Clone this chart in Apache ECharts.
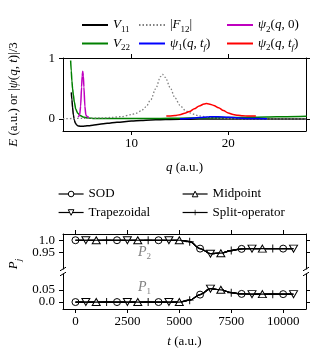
<!DOCTYPE html>
<html><head><meta charset="utf-8">
<script src="https://cdn.jsdelivr.net/npm/echarts@6/dist/echarts.min.js"></script>
<style>html,body{margin:0;padding:0;background:#fff}#c{width:319px;height:355px}</style>
</head><body><div id="c"></div>
<script>
// ---------- top panel data ----------
const qV11 = [3.79, 3.85, 3.92, 4.0, 4.1, 4.2, 4.35, 4.5, 4.7, 4.9, 5.2, 5.6, 6.0, 6.7, 7.5, 8.5, 10, 11, 12, 13, 14, 16, 18, 20, 24, 28.1];
const V11  = [0.44, 0.32, 0.19, 0.07, -0.02, -0.065, -0.1, -0.115, -0.12, -0.12, -0.117, -0.11, -0.103, -0.088, -0.072, -0.055, -0.033, -0.024, -0.016, -0.011, -0.007, -0.003, -0.001, 0, 0, 0];
const qV22 = [3.72, 3.78, 3.85, 3.92, 4.0, 4.1, 4.25, 4.45, 4.7, 5.0, 5.5, 6.2, 7, 8, 10, 12, 14, 16, 18, 20, 22, 24, 26, 28.1];
const V22  = [0.97, 0.8, 0.63, 0.5, 0.4, 0.28, 0.16, 0.095, 0.058, 0.034, 0.018, 0.01, 0.007, 0.006, 0.006, 0.008, 0.011, 0.015, 0.019, 0.023, 0.028, 0.033, 0.038, 0.044];
const qF12 = [2.93, 5, 7, 8, 9, 10, 10.5, 11, 11.5, 12, 12.5, 13, 13.2, 13.5, 14, 14.5, 15, 15.5, 16, 17, 18, 19, 20, 22, 25, 28.1];
const F12  = [0.005, 0.01, 0.018, 0.026, 0.04, 0.072, 0.095, 0.135, 0.2, 0.32, 0.5, 0.7, 0.74, 0.69, 0.52, 0.35, 0.23, 0.15, 0.1, 0.05, 0.025, 0.014, 0.008, 0.003, 0.001, 0];
const qPsi1 = [15, 16, 17, 18, 19, 20, 21, 22, 23, 24];
const Psi1  = [0.005, 0.01, 0.025, 0.035, 0.036, 0.028, 0.018, 0.01, 0.006, 0.004];
const qPsi20 = [4.5, 4.65, 4.75, 4.85, 4.91, 4.97, 5.03, 5.09, 5.19, 5.29, 5.45, 5.6];
const Psi20  = [0.03, 0.067, 0.21, 0.53, 0.71, 0.79, 0.71, 0.53, 0.21, 0.067, 0.035, 0.03];
const qPsi2f = [13.6, 14, 14.5, 15, 15.5, 16, 16.5, 17, 17.5, 17.75, 18, 18.5, 19, 19.5, 20, 20.5, 21, 21.5, 22, 22.85];
const Psi2f  = [0.05, 0.051, 0.056, 0.072, 0.095, 0.125, 0.17, 0.215, 0.248, 0.255, 0.25, 0.225, 0.185, 0.14, 0.1, 0.075, 0.06, 0.053, 0.05, 0.05];
const qTicks = [10, 20];
const eTicks = [0, 1];

// ---------- bottom panel data ----------
const tVals = [0,500,1000,1500,2000,2500,3000,3500,4000,4500,5000,5500,6000,6500,7000,7500,8000,8500,9000,9500,10000,10500];
const P2vals = [1,1,1,1,1,1,1,1,1,1,1,0.994,0.965,0.944,0.946,0.957,0.964,0.965,0.965,0.965,0.965,0.965];
const P1vals = [0,0,0,0,0,0,0,0,0,0,0,0.008,0.031,0.056,0.051,0.039,0.034,0.033,0.033,0.033,0.033,0.033];
const methods = ['SOD', 'Trapezoidal', 'Midpoint', 'Split-operator'];
const markerOffsets = [0, 1, 2, 3];
const tTicks = [0, 2500, 5000, 7500, 10000];
const p2Ticks = [0.95, 1.0];
const p2TickLabels = ['0.95', '1.0'];
const p1Ticks = [0, 0.05];
const p1TickLabels = ['0.0', '0.05'];

const F = 'Liberation Serif';
const FS = 13;
const rich = {
  i: {fontFamily: F, fontStyle: 'italic', fontSize: FS, lineHeight: 18},
  s: {fontFamily: F, fontSize: 9, lineHeight: 8, verticalAlign: 'bottom'},
  si: {fontFamily: F, fontStyle: 'italic', fontSize: 9, lineHeight: 8, verticalAlign: 'bottom'}
};
const txt = {fontFamily: F, fontSize: FS, color: '#000', lineHeight: 18, rich: rich};
const tickTxt = {show: true, margin: 8, fontFamily: F, fontSize: FS, color: '#000', lineHeight: 11,
  hideOverlap: false, showMinLabel: true, showMaxLabel: true};

const zip = (a, b) => a.map((x, i) => [x, b[i]]);

const legendLabels = {
  'V11': '{i|V}{s|11}',
  'V22': '{i|V}{s|22}',
  'F12': '|{i|F}{s|12}|',
  'psi1': '{i|ψ}{s|1}({i|q}, {i|t}{si|f})',
  'psi20': '{i|ψ}{s|2}({i|q}, 0)',
  'psi2f': '{i|ψ}{s|2}({i|q}, {i|t}{si|f})'
};

const axisLine = {show: true, onZero: false, lineStyle: {color: '#000', width: 1}};
function ticks(vals) { return {show: true, inside: false, length: 4, lineStyle: {color: '#000'}, customValues: vals}; }
function mkAxis(o) {
  return Object.assign({
    type: 'value', splitLine: {show: false},
    axisLine: axisLine,
    axisLabel: {show: false}
  }, o);
}
// one label per axis so that the close-together labels are never dropped
function labelOnlyAxis(grid, min, max, value, label) {
  return mkAxis({gridIndex: grid, position: 'left', offset: 0, min: min, max: max,
    axisLine: {show: false}, axisTick: {show: false},
    axisLabel: Object.assign({}, tickTxt, {customValues: [value], formatter: () => label})});
}

const xAxes = [
  mkAxis({gridIndex: 0, position: 'bottom', min: 2.93, max: 28.03, axisTick: ticks(qTicks),
    axisLabel: Object.assign({}, tickTxt, {margin: 7, customValues: qTicks}),
    name: '{i|q} (a.u.)', nameLocation: 'middle', nameGap: 28, nameTextStyle: txt}),
  mkAxis({gridIndex: 0, position: 'top', min: 2.93, max: 28.03, axisTick: ticks(qTicks)}),
  mkAxis({gridIndex: 1, position: 'top', min: -600, max: 11100, axisTick: ticks(tTicks)}),
  mkAxis({gridIndex: 2, position: 'bottom', min: -600, max: 11100, axisTick: ticks(tTicks),
    axisLabel: Object.assign({}, tickTxt, {margin: 7, customValues: tTicks, formatter: v => String(v)}),
    name: '{i|t} (a.u.)', nameLocation: 'middle', nameGap: 24, nameTextStyle: txt})
];
const P2min = 0.88, P2max = 1.026, P1min = -0.029, P1max = 0.117;
const yAxes = [
  mkAxis({gridIndex: 0, position: 'left', min: -0.199, max: 1.01, axisTick: ticks(eTicks),
    axisLabel: Object.assign({}, tickTxt, {customValues: eTicks}),
    name: '{i|E} (a.u.) or |{i|ψ}({i|q}, {i|t})|/3', nameLocation: 'middle', nameGap: 40, nameRotate: 90, nameTextStyle: txt}),
  mkAxis({gridIndex: 0, position: 'right', min: -0.199, max: 1.01, axisTick: ticks(eTicks)}),
  mkAxis({gridIndex: 1, position: 'left', min: P2min, max: P2max, axisTick: ticks(p2Ticks)}),
  mkAxis({gridIndex: 1, position: 'right', min: P2min, max: P2max, axisTick: ticks(p2Ticks)}),
  mkAxis({gridIndex: 2, position: 'left', min: P1min, max: P1max, axisTick: ticks(p1Ticks)}),
  mkAxis({gridIndex: 2, position: 'right', min: P1min, max: P1max, axisTick: ticks(p1Ticks)}),
  labelOnlyAxis(1, P2min, P2max, p2Ticks[0], p2TickLabels[0]),
  labelOnlyAxis(1, P2min, P2max, p2Ticks[1], p2TickLabels[1]),
  labelOnlyAxis(2, P1min, P1max, p1Ticks[0], p1TickLabels[0]),
  labelOnlyAxis(2, P1min, P1max, p1Ticks[1], p1TickLabels[1])
];

function topLine(name, data, color, extra) {
  return Object.assign({
    name: name, type: 'line', xAxisIndex: 0, yAxisIndex: 0, data: data,
    symbol: 'none', smooth: 0.3, smoothMonotone: 'x', clip: true,
    lineStyle: {color: color, width: 1.5}, itemStyle: {color: color}, z: 2
  }, extra || {});
}

const series = [
  topLine('V11', zip(qV11, V11), '#000000'),
  topLine('V22', zip(qV22, V22), '#008000'),
  topLine('F12', zip(qF12, F12), '#808080', {lineStyle: {color: '#808080', width: 1.3, type: [1.5, 2]}}),
  topLine('psi1', zip(qPsi1, Psi1), '#0000ff'),
  topLine('psi20', zip(qPsi20, Psi20), '#bf00bf', {smooth: 0.2}),
  topLine('psi2f', zip(qPsi2f, Psi2f), '#ff0000')
];

const symbols = [
  {symbol: 'circle', symbolSize: 7, itemStyle: {color: '#fff', borderColor: '#000', borderWidth: 1}},
  {symbol: 'path://M0,0L10,0L5,9Z', symbolSize: [8, 7], itemStyle: {color: '#fff', borderColor: '#000', borderWidth: 1}},
  {symbol: 'triangle', symbolSize: [8, 7], itemStyle: {color: '#fff', borderColor: '#000', borderWidth: 1}},
  {symbol: 'path://M4.4,0H5.6V4.4H10V5.6H5.6V10H4.4V5.6H0V4.4H4.4Z', symbolSize: 8, itemStyle: {color: '#000', borderWidth: 0}}
];

methods.forEach((m, k) => {
  [[1, P2vals], [2, P1vals]].forEach(([g, vals]) => {
    series.push(Object.assign({
      name: m, type: 'line', xAxisIndex: g + 1, yAxisIndex: 2 * g,
      data: tVals.map((t, i) => (i % 4 === markerOffsets[k]) ? [t, vals[i]] : {value: [t, vals[i]], symbol: 'none'}),
      showAllSymbol: true, smooth: 0.35, smoothMonotone: 'x',
      lineStyle: {color: '#000', width: 1.2}, z: 3 + k
    }, symbols[k]));
  });
});

function legendAt(name, left, cy, w, top) {
  const l = {
    data: [name], left: left, top: cy - 9, orient: 'horizontal', padding: 0,
    itemWidth: w, itemGap: 0, selectedMode: false,
    textStyle: txt, formatter: n => legendLabels[n] || n
  };
  if (top) {
    l.itemHeight = 10;
    l.itemStyle = {opacity: 0};
  } else {
    l.itemHeight = 7;
    l.lineStyle = {width: 1.2};
    l.itemStyle = {borderWidth: 1};
  }
  return l;
}
const legends = [
  legendAt('V11', 81, 25, 26, true), legendAt('F12', 138, 25, 26, true), legendAt('psi20', 226, 25, 26, true),
  legendAt('V22', 81, 43.5, 26, true), legendAt('psi1', 138, 43.5, 26, true), legendAt('psi2f', 226, 43.5, 26, true),
  legendAt('SOD', 58, 194, 25), legendAt('Midpoint', 182, 194, 25),
  legendAt('Trapezoidal', 58, 212.5, 25), legendAt('Split-operator', 182, 212.5, 25)
];

const grids = [
  {left: 63, top: 58, width: 243, height: 73},
  {left: 63, top: 234, width: 243, height: 35},
  {left: 63, top: 274, width: 243, height: 35}
].map(g => Object.assign(g, {containLabel: false, outerBoundsMode: 'none'}));

function brk(x, y) {
  return {type: 'line', shape: {x1: x - 3, y1: y + 1.8, x2: x + 3, y2: y - 1.8}, style: {stroke: '#000', lineWidth: 1}, silent: true};
}
const grayRich = {
  i: {fontFamily: F, fontStyle: 'italic', fontSize: 14, lineHeight: 18, fill: '#808080'},
  s: {fontFamily: F, fontSize: 9, lineHeight: 8, verticalAlign: 'bottom', fill: '#808080'}
};
const graphic = [
  brk(63, 269), brk(306, 269), brk(63, 274), brk(306, 274),
  {type: 'text', left: 138, top: 245, style: {text: '{i|P}{s|2}', rich: grayRich, fill: '#808080'}},
  {type: 'text', left: 138, top: 280, style: {text: '{i|P}{s|1}', rich: grayRich, fill: '#808080'}},
  {type: 'text', x: 14, y: 264, rotation: Math.PI / 2,
   style: {text: '{i|P}{si|j}', rich: rich, align: 'center', verticalAlign: 'middle', fill: '#000'}}
];

const chart = echarts.init(document.getElementById('c'), null, {renderer: 'canvas'});
chart.setOption({
  animation: false,
  backgroundColor: '#fff',
  grid: grids, xAxis: xAxes, yAxis: yAxes,
  legend: legends, series: series, graphic: graphic
});
</script></body></html>
